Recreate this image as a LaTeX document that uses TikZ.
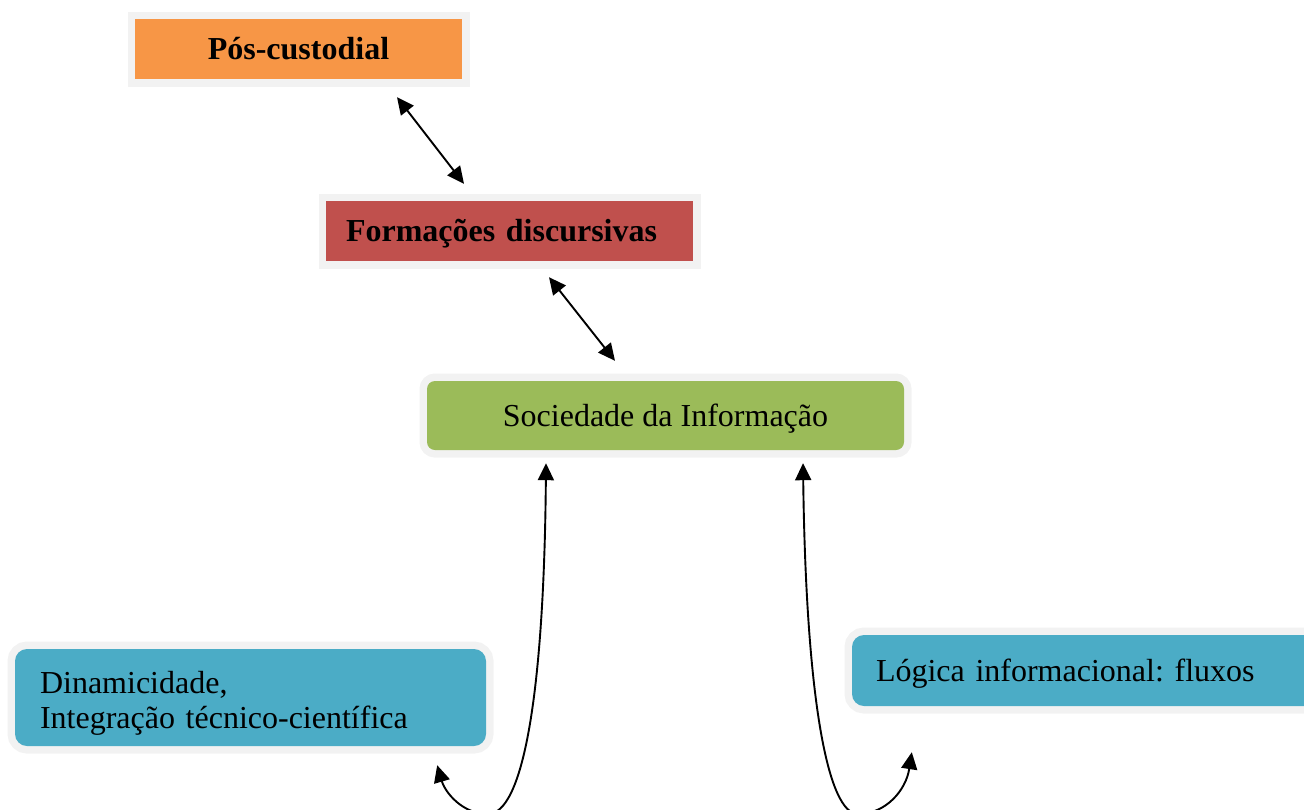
\documentclass[tikz,border=0pt]{standalone}
\usepackage{fontspec}
\setmainfont{Liberation Serif}
\usetikzlibrary{arrows.meta,calc}
\definecolor{ringgray}{HTML}{F2F2F2}
\definecolor{orangec}{HTML}{F79646}
\definecolor{redc}{HTML}{C0504D}
\definecolor{greenc}{HTML}{9BBB59}
\definecolor{bluec}{HTML}{4BACC6}
\frenchspacing
\begin{document}
\begin{tikzpicture}[x=1pt,y=-1pt,
  ring/.style={preaction={draw=ringgray,line width=15pt}},
  txt/.style={font=\fontsize{32}{35}\selectfont, text=black},
  btxt/.style={font=\fontsize{32}{35}\selectfont\bfseries, text=black},
  oneline/.style={text height=21pt, text depth=0pt},
  biarrow/.style={{Triangle[length=17pt,width=16pt]}-{Triangle[length=17pt,width=16pt]}, line width=1.9pt}
]
\useasboundingbox (0,0) rectangle (1304,809);
\clip (0,0) rectangle (1304,809);

\node[ring, fill=orangec, minimum width=327pt, minimum height=60pt, inner sep=0pt, btxt, oneline] (pos) at (298.5,49) {Pós-custodial};

\node[ring, fill=redc, minimum width=367pt, minimum height=60pt, inner xsep=20pt, inner ysep=0pt, text width=327pt, align=left, btxt, oneline] (fd) at (509.5,231) {Formações discursivas};

\node[ring, fill=greenc, rounded corners=8pt, minimum width=477pt, minimum height=69pt, inner sep=0pt, txt, oneline] (soc) at (665.5,415.5) {Sociedade da Informação};

\node[ring, fill=bluec, rounded corners=12pt, minimum width=471pt, minimum height=97pt, inner xsep=25pt, inner ysep=0pt, text width=421pt, align=left, txt, text height=22pt, text depth=31pt] (din) at (250.5,697.5) {Dinamicidade,\\Integração técnico-científica};

\node[ring, fill=bluec, rounded corners=12pt, minimum width=500pt, minimum height=71pt, inner xsep=24pt, inner ysep=0pt, text width=452pt, align=left, txt, oneline] (log) at (1102,670.5) {Lógica informacional: fluxos};

\draw[biarrow] ($(pos.south)+(98.5,18)$) -- ($(fd.north)+(-45.5,-17)$);
\draw[biarrow] ($(fd.south)+(39.5,16)$) -- ($(soc.north)+(-50.5,-20)$);

\draw[biarrow] ($(soc.south)+(-119.5,13)$) .. controls (544,700) and (522,814) .. (488,814) .. controls (462,814) and (445,792) .. ($(din.south east)+(-49,19)$);
\draw[biarrow] ($(soc.south)+(137.5,13)$) .. controls (806,700) and (828,814) .. (858,814) .. controls (886,814) and (906,790) .. ($(log.south west)+(60,46)$);
\end{tikzpicture}
\end{document}
